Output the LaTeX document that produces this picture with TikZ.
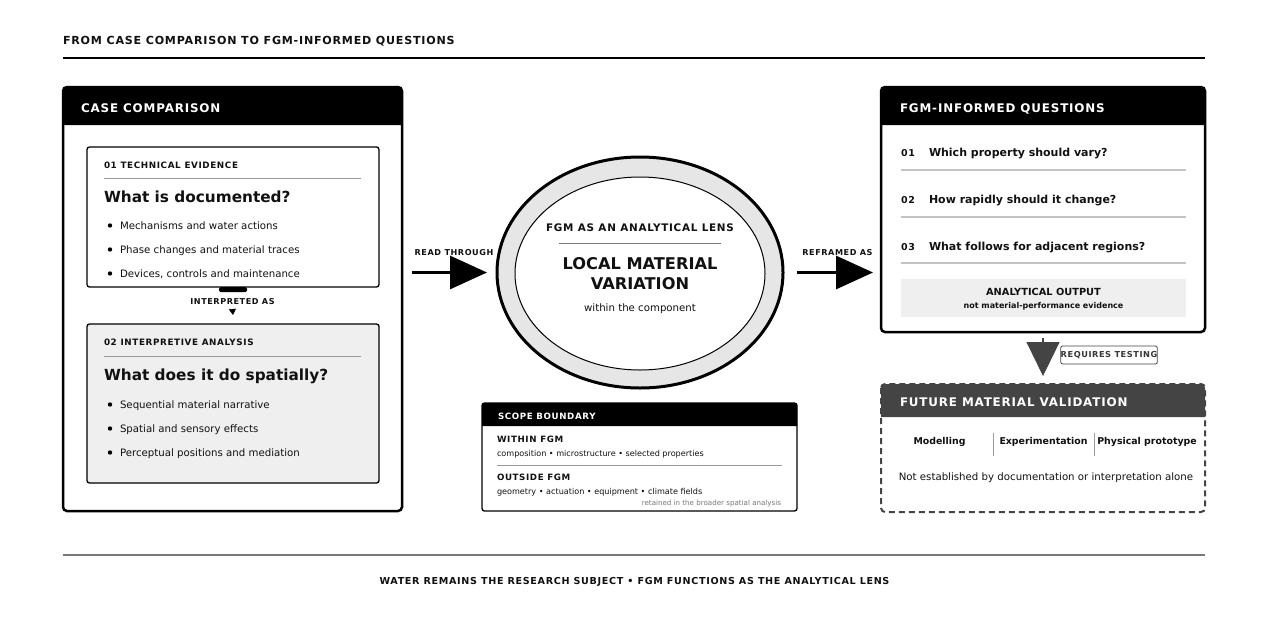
\documentclass[tikz,border=0pt]{standalone}
\usepackage{fontspec}
\setmainfont{DejaVu Sans}
\newfontfamily\capsf[LetterSpace=7]{DejaVu Sans}
\usetikzlibrary{shapes.geometric,arrows.meta}
\newcommand\fsz[1]{\fontsize{#1pt}{#1pt}\selectfont}
\definecolor{lgray}{HTML}{EFEFEF}
\definecolor{ring}{HTML}{E6E6E6}
\definecolor{rulec}{HTML}{9A9A9A}
\definecolor{qrule}{HTML}{C4C4C4}
\definecolor{dgray}{HTML}{444444}
\definecolor{midgray}{HTML}{777777}
\definecolor{ink}{HTML}{111111}
\begin{document}
\begin{tikzpicture}[x=1pt,y=-1pt,
  every node/.style={inner sep=0pt, outer sep=0pt, text=ink},
  panel/.style={draw=black, line width=2.5pt, rounded corners=4pt, fill=white},
  box/.style={draw=black, line width=1.3pt, rounded corners=2.5pt, fill=white},
  hdr/.style={anchor=base west, text=white, font=\capsf\bfseries\fsz{11.9}},
  sect/.style={anchor=base west, font=\capsf\bfseries\fsz{8.8}},
  bigq/.style={anchor=base west, font=\bfseries\fsz{15.3}},
  bul/.style={anchor=base west, font=\fsz{10.2}},
  smalllab/.style={anchor=base, font=\capsf\bfseries\fsz{8.1}},
  ques/.style={anchor=base west, font=\bfseries\fsz{11}},
  qnum/.style={anchor=base west, font=\capsf\bfseries\fsz{9.5}},
  scopelab/.style={anchor=base west, font=\capsf\bfseries\fsz{8.7}},
  scopetxt/.style={anchor=base west, font=\fsz{8.1}},
  colhead/.style={anchor=base, font=\bfseries\fsz{9.4}},
  bigarrow/.style={line width=3pt, -{Triangle[length=37pt,width=33pt]}},
]
\fill[white] (0,0) rectangle (1269,635);
\useasboundingbox (0,0) rectangle (1269,635);

% title
\node[anchor=base west, font=\capsf\bfseries\fsz{11.1}] (title) at (63,44.5) {FROM CASE COMPARISON TO FGM-INFORMED QUESTIONS};
\draw[line width=2pt] (63,58) -- (1205,58);

% ---------- left panel
\node[panel, minimum width=339pt, minimum height=424pt, anchor=north west] (casep) at (63,87) {};
\fill[black, rounded corners=4pt] (63,125) -- (63,87) -- (402,87) -- (402,125);
\node[hdr] (caseh) at (81,112.5) {CASE COMPARISON};

\node[box, minimum width=292pt, minimum height=140pt, anchor=north west] (evid) at (87,147) {};
\node[sect] (evidl) at (104,168) {01 TECHNICAL EVIDENCE};
\draw[rulec, line width=1pt] (104,178) -- (361,178);
\node[bigq] (evidq) at (104,202) {What is documented?};
\fill (110,225.5) circle (2.2pt);
\node[bul] (evb1) at (120,229) {Mechanisms and water actions};
\fill (110,249.5) circle (2.2pt);
\node[bul] (evb2) at (120,253) {Phase changes and material traces};
\fill (110,273.5) circle (2.2pt);
\node[bul] (evb3) at (120,277) {Devices, controls and maintenance};
\node[fill=black, rounded corners=1.5pt, minimum width=28pt, minimum height=5pt, anchor=north] (tab) at (evid.south) {};

\node[smalllab] (interp) at (232.5,304) {INTERPRETED AS};

\node[box, fill=lgray, minimum width=292pt, minimum height=159pt, anchor=north west] (anal) at (87,324) {};
\node[sect] (anall) at (104,345) {02 INTERPRETIVE ANALYSIS};
\draw[rulec, line width=1pt] (104,356) -- (361,356);
\node[bigq] (analq) at (104,380) {What does it do spatially?};
\fill (110,404.5) circle (2.2pt);
\node[bul] (anb1) at (120,408) {Sequential material narrative};
\fill (110,428.5) circle (2.2pt);
\node[bul] (anb2) at (120,432) {Spatial and sensory effects};
\fill (110,452.5) circle (2.2pt);
\node[bul] (anb3) at (120,456) {Perceptual positions and mediation};

\draw[line width=0.6pt, -{Triangle[length=6pt,width=7pt]}] ([yshift=-6pt]interp.base) -- ([yshift=9pt]anal.north);

% ---------- centre lens
\node[ellipse, draw=black, line width=3pt, fill=ring, minimum width=286pt, minimum height=231pt] (lens) at (640,272.5) {};
\node[ellipse, draw=black, line width=1pt, fill=white, minimum width=250pt, minimum height=193pt] (lensin) at (640,273.5) {};
\node[anchor=base, font=\capsf\bfseries\fsz{10.4}] (lenst) at (640,231) {FGM AS AN ANALYTICAL LENS};
\draw[midgray, line width=1pt] (559,243) -- (721,243);
\node[anchor=base, font=\bfseries\fsz{16.2}] (lensa) at (640,269.5) {LOCAL MATERIAL};
\node[anchor=base, font=\bfseries\fsz{16.2}] (lensb) at (640,289) {VARIATION};
\node[anchor=base, font=\fsz{10.2}] (lensc) at (640,311) {within the component};

% ---------- scope boundary
\node[box, minimum width=315pt, minimum height=108pt, anchor=north west] (scope) at (482,403) {};
\fill[black, rounded corners=2.5pt] (482,426) -- (482,403) -- (797,403) -- (797,426);
\node[scopelab, text=white] (scopeh) at (498,419) {SCOPE BOUNDARY};
\node[scopelab] (within) at (497,442) {WITHIN FGM};
\node[scopetxt] (withint) at (497,456) {composition • microstructure • selected properties};
\draw[rulec, line width=0.8pt] (497,465) -- (782,465);
\node[scopelab] (outside) at (497,480) {OUTSIDE FGM};
\node[scopetxt] (outsidet) at (497,494) {geometry • actuation • equipment • climate fields};
\node[anchor=base east, font=\fsz{7.1}, text=midgray] (retained) at (781,505.5) {retained in the broader spatial analysis};

% ---------- questions panel
\node[panel, minimum width=324pt, minimum height=245pt, anchor=north west] (qpan) at (881,87) {};
\fill[black, rounded corners=4pt] (881,125) -- (881,87) -- (1205,87) -- (1205,125);
\node[hdr] (qh) at (900,112.5) {FGM-INFORMED QUESTIONS};
\node[qnum] (q1n) at (901,156) {01};
\node[ques] (q1) at (929,156) {Which property should vary?};
\draw[qrule, line width=1.8pt] (901,170) -- (1186,170);
\node[qnum] (q2n) at (901,203) {02};
\node[ques] (q2) at (929,203) {How rapidly should it change?};
\draw[qrule, line width=1.8pt] (901,217) -- (1186,217);
\node[qnum] (q3n) at (901,250) {03};
\node[ques] (q3) at (929,250) {What follows for adjacent regions?};
\draw[qrule, line width=1.8pt] (901,263) -- (1186,263);
\node[fill=lgray, minimum width=285pt, minimum height=38pt, anchor=north west] (aout) at (901,279) {};
\node[anchor=base, font=\bfseries\fsz{9.8}] (aoutt) at (1043.5,295) {ANALYTICAL OUTPUT};
\node[anchor=base, font=\bfseries\fsz{8}] (aouts) at (1043.5,308) {not material-performance evidence};

% ---------- future validation
\node[minimum width=324pt, minimum height=128pt, anchor=north west] (fut) at (881,384) {};
\fill[dgray, rounded corners=4pt] (881,417) -- (881,384) -- (1205,384) -- (1205,417);
\draw[dgray, line width=2pt, dash pattern=on 6pt off 4pt, rounded corners=4pt] (fut.north west) rectangle (fut.south east);
\node[hdr] (futh) at (900,406) {FUTURE MATERIAL VALIDATION};
\node[colhead] (m1) at (939.5,444) {Modelling};
\node[colhead] (m2) at (1043.5,444) {Experimentation};
\node[colhead] (m3) at (1147,444) {Physical prototype};
\draw[rulec, line width=0.8pt] (993,433) -- (993,456);
\draw[rulec, line width=0.8pt] (1094,433) -- (1094,456);
\node[anchor=base, font=\fsz{10.2}] (futn) at (1046,480) {Not established by documentation or interpretation alone};

% ---------- connectors
\draw[bigarrow, shorten <=10pt, shorten >=10pt] (casep.east |- lens.center) -- (lens.west);
\node[smalllab] (readl) at (454,255) {READ THROUGH};
\draw[bigarrow, shorten <=14pt, shorten >=8pt] (lens.east) -- (lens.east -| qpan.west);
\node[smalllab] (refl) at (837.5,255) {REFRAMED AS};
\draw[dgray, line width=1.2pt, -{Triangle[length=34pt,width=33pt]}, shorten <=6pt, shorten >=8pt] (qpan.south) -- (fut.north);
\node[draw=dgray, line width=0.8pt, rounded corners=2pt, fill=white, minimum width=90pt, minimum height=18pt, font=\capsf\bfseries\fsz{8.2}, text=dgray!80!black] (reqt) at (1109,355) {REQUIRES TESTING};

% ---------- footer
\draw[midgray, line width=1.2pt] (63,555) -- (1205,555);
\node[anchor=base, font=\capsf\bfseries\fsz{9.6}] (foot) at (634.5,584.5) {WATER REMAINS THE RESEARCH SUBJECT • FGM FUNCTIONS AS THE ANALYTICAL LENS};
\end{tikzpicture}
\end{document}
